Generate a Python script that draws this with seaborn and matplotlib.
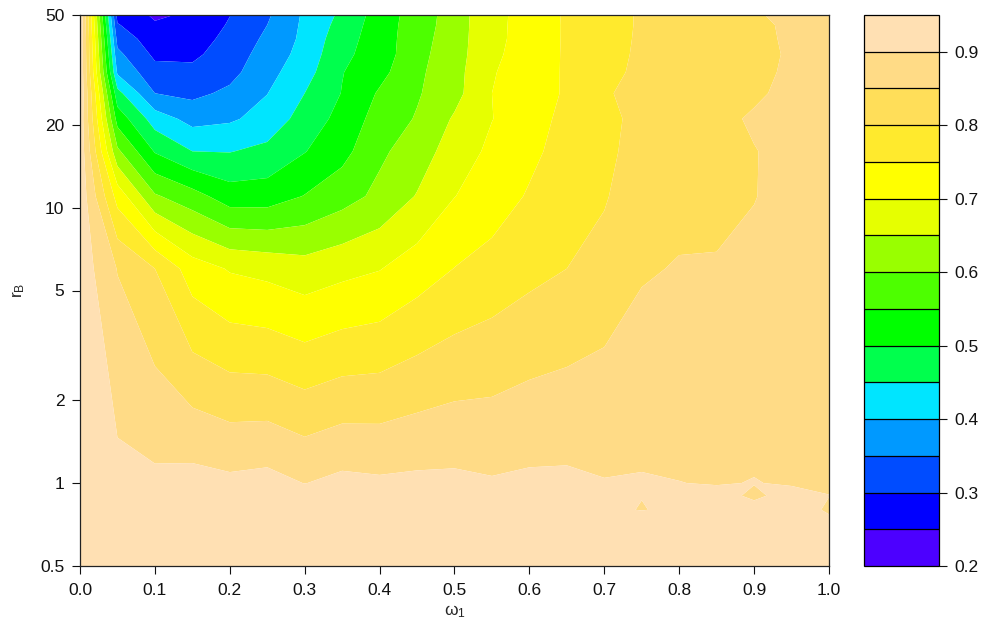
import numpy as np
import matplotlib
matplotlib.use("Agg")
import matplotlib.pyplot as plt
import seaborn as sns

sns.set_style("white")
plt.rcParams['font.family'] = ['Liberation Sans', 'DejaVu Sans']
plt.rcParams['mathtext.fontset'] = 'custom'
plt.rcParams['mathtext.rm'] = 'Liberation Sans'
plt.rcParams['mathtext.it'] = 'Liberation Sans'

# grid of the data
omega1 = [0.00, 0.05, 0.10, 0.15, 0.20, 0.25, 0.30, 0.35, 0.40, 0.45, 0.50,
          0.55, 0.60, 0.65, 0.70, 0.75, 0.80, 0.85, 0.90, 0.95, 1.00]
rB = [0.5, 0.6, 0.7, 0.8, 0.9, 1, 6, 11, 16, 21, 26, 31, 36, 41, 46, 50]

# values per rB row (one entry per omega1 column)
z_r0_5 = [0.945] * 21
z_r0_6 = [0.94] * 21
z_r0_7 = [0.94] * 20 + [0.91]
z_r0_8 = [0.935] * 14 + [0.91, 0.898, 0.91, 0.915, 0.91, 0.915, 0.896]
z_r0_9 = [0.945] + [0.93] * 13 + [0.92, 0.901, 0.905, 0.91, 0.895, 0.91, 0.9005]
z_r1 = [0.948, 0.914, 0.91, 0.918, 0.911, 0.917, 0.899, 0.913, 0.908, 0.911, 0.911,
        0.9045, 0.909, 0.909, 0.902, 0.903, 0.9005, 0.898, 0.901, 0.897, 0.895]
z_r6 = [0.93, 0.848, 0.80, 0.725, 0.696, 0.686, 0.672, 0.686, 0.698, 0.725, 0.751,
        0.769, 0.7865, 0.80, 0.82, 0.845, 0.853, 0.857, 0.865, 0.88, 0.885]
z_r11 = [0.935, 0.731, 0.606, 0.57, 0.524, 0.525, 0.552, 0.58, 0.612, 0.653, 0.699,
         0.7245, 0.755, 0.78, 0.795, 0.835, 0.837, 0.827, 0.848, 0.87, 0.88]
z_r16 = [0.935, 0.61, 0.496, 0.45, 0.448, 0.463, 0.498, 0.534, 0.591, 0.624, 0.675,
         0.71, 0.738, 0.77, 0.788, 0.82, 0.83, 0.83, 0.848, 0.865, 0.875]
z_r21 = [0.935, 0.53, 0.426, 0.383, 0.393, 0.418, 0.471, 0.516, 0.571, 0.604, 0.656,
         0.699, 0.725, 0.766, 0.781, 0.82, 0.825, 0.835, 0.857, 0.865, 0.875]
z_r26 = [0.945, 0.466, 0.35, 0.338, 0.36, 0.399, 0.45, 0.502, 0.556, 0.595, 0.634,
         0.70, 0.725, 0.756, 0.795, 0.815, 0.825, 0.835, 0.841, 0.865, 0.875]
z_r31 = [0.945, 0.392, 0.317, 0.312, 0.335, 0.384, 0.43, 0.498, 0.535, 0.59, 0.632,
         0.697, 0.72, 0.757, 0.78, 0.815, 0.825, 0.835, 0.83, 0.863, 0.875]
z_r36 = [0.945, 0.362, 0.29, 0.29, 0.324, 0.371, 0.418, 0.489, 0.523, 0.585, 0.628,
         0.692, 0.718, 0.757, 0.768, 0.815, 0.825, 0.835, 0.82, 0.862, 0.875]
z_r41 = [0.948, 0.333, 0.271, 0.277, 0.314, 0.36, 0.412, 0.48, 0.524, 0.58, 0.626,
         0.69, 0.715, 0.757, 0.766, 0.812, 0.825, 0.835, 0.83, 0.862, 0.875]
z_r46 = [0.948, 0.304, 0.255, 0.265, 0.305, 0.35, 0.41, 0.468, 0.525, 0.575, 0.624,
         0.69, 0.714, 0.757, 0.765, 0.81, 0.825, 0.835, 0.835, 0.862, 0.875]
z_r50 = [0.948, 0.283, 0.243, 0.257, 0.299, 0.343, 0.408, 0.46, 0.5225, 0.573, 0.623,
         0.69, 0.713, 0.758, 0.765, 0.81, 0.825, 0.835, 0.845, 0.862, 0.875]

levels = [0.20, 0.25, 0.30, 0.35, 0.40, 0.45, 0.50, 0.55, 0.60, 0.65, 0.70,
          0.75, 0.80, 0.85, 0.90, 0.95]
colors = ['#4C00FF', '#0000FF', '#004CFF', '#0099FF', '#00E5FF',
          '#00FF4D', '#00FF00', '#4DFF00', '#99FF00', '#E6FF00',
          '#FFFF00', '#FFEA2D', '#FFDE59', '#FFDB86', '#FFE0B3']

rB_ticks = [0.5, 1, 2, 5, 10, 20, 50]
rB_tick_labels = ['0.5', '1', '2', '5', '10', '20', '50']
x_ticks = [0.0, 0.1, 0.2, 0.3, 0.4, 0.5, 0.6, 0.7, 0.8, 0.9, 1.0]
cb_ticks = [0.2, 0.3, 0.4, 0.5, 0.6, 0.7, 0.8, 0.9]

Z = np.array([z_r0_5, z_r0_6, z_r0_7, z_r0_8, z_r0_9, z_r1, z_r6, z_r11, z_r16,
              z_r21, z_r26, z_r31, z_r36, z_r41, z_r46, z_r50])
X = np.array(omega1)
Y = np.log10(np.array(rB, dtype=float))

W, H = 989, 633
fig = plt.figure(figsize=(W / 100, H / 100), dpi=100)
ax = fig.add_axes([80 / W, (H - 566) / H, 749 / W, 551 / H])
cax = fig.add_axes([864 / W, (H - 566) / H, 75 / W, 551 / H])

cs = ax.contourf(X, Y, Z, levels=levels, colors=colors, antialiased=True)
ax.set_xlim(0, 1)
ax.set_ylim(np.log10(0.5), np.log10(50))
ax.set_xticks(x_ticks)
ax.set_xticklabels([f"{v:.1f}" for v in x_ticks])
ax.set_yticks(np.log10(rB_ticks))
ax.set_yticklabels(rB_tick_labels)

fs = 12.5
ax.tick_params(axis='x', direction='out', length=5.8, width=0.8, labelsize=fs,
               pad=6.5, colors='#111111', bottom=True)
ax.tick_params(axis='y', direction='out', length=5.8, width=0.8, labelsize=fs,
               pad=5.5, colors='#111111', left=True)
for s in ax.spines.values():
    s.set_color('#222222')
    s.set_linewidth(0.9)

ax.set_xlabel(r'$\mathregular{ω_1}$', fontsize=fs)
ax.xaxis.set_label_coords(0.5, -(603 - 566) / 551)
ax.set_ylabel(r'$\mathregular{r_B}$', fontsize=fs)
ax.yaxis.set_label_coords((27 - 80) / 749, 0.5)

cb = fig.colorbar(cs, cax=cax, ticks=cb_ticks, drawedges=True)
cb.set_ticklabels([f"{v:.1f}" for v in cb_ticks])
cb.outline.set_edgecolor('black')
cb.outline.set_linewidth(0.9)
cb.dividers.set_color('black')
cb.dividers.set_linewidth(0.9)
cax.tick_params(direction='out', length=5.8, width=0.8, labelsize=fs, pad=5,
                colors='#111111', right=True)
cax.set_ylim(0.2, 0.95)

fig.savefig('out.png', dpi=100)
